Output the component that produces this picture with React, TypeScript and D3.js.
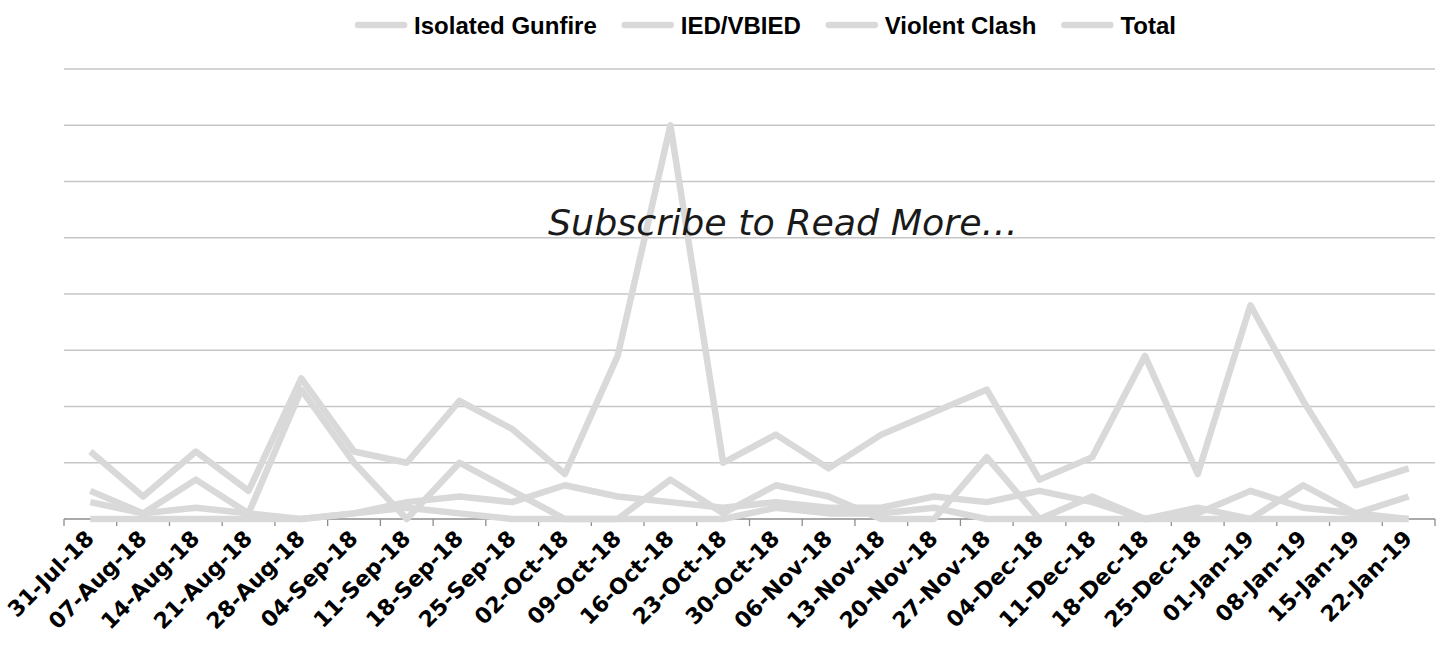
import React, { useEffect, useRef } from "react";
import * as d3 from "d3";

const dates = [
  "31-Jul-18", "07-Aug-18", "14-Aug-18", "21-Aug-18", "28-Aug-18", "04-Sep-18",
  "11-Sep-18", "18-Sep-18", "25-Sep-18", "02-Oct-18", "09-Oct-18", "16-Oct-18",
  "23-Oct-18", "30-Oct-18", "06-Nov-18", "13-Nov-18", "20-Nov-18", "27-Nov-18",
  "04-Dec-18", "11-Dec-18", "18-Dec-18", "25-Dec-18", "01-Jan-19", "08-Jan-19",
  "15-Jan-19", "22-Jan-19",
];

const isolatedGunfire = [5, 1, 7, 1, 23, 10, 0, 10, 5, 0, 0, 7, 1, 6, 4, 0, 0, 11, 0, 4, 0, 1, 5, 2, 1, 0];
const iedVbied = [0, 0, 0, 0, 0, 1, 2, 1, 0, 0, 0, 0, 0, 2, 1, 1, 2, 0, 0, 0, 0, 0, 0, 6, 1, 4];
const violentClash = [3, 1, 2, 1, 0, 1, 3, 4, 3, 6, 4, 3, 2, 3, 2, 2, 4, 3, 5, 3, 0, 2, 0, 0, 0, 0];
const total = [12, 4, 12, 5, 25, 12, 10, 21, 16, 8, 29, 70, 10, 15, 9, 15, 19, 23, 7, 11, 29, 8, 38, 21, 6, 9];

const seriesNames = ["Isolated Gunfire", "IED/VBIED", "Violent Clash", "Total"];
const seriesValues = [isolatedGunfire, iedVbied, violentClash, total];
const yTicks = [0, 10, 20, 30, 40, 50, 60, 70, 80];
const overlayText = "Subscribe to Read More\u2026";

const LINE_COLOR = "#d9d9d9";

export default function App() {
  const ref = useRef<SVGSVGElement | null>(null);

  useEffect(() => {
    const svg = d3.select(ref.current);
    svg.selectAll("*").remove();

    const left = 64, right = 1435, top = 69, bottom = 519;
    const x = d3.scaleBand<string>().domain(dates).range([left, right]);
    const y = d3.scaleLinear().domain([0, 80]).range([bottom, top]);
    const cx = (d: string) => (x(d) as number) + x.bandwidth() / 2;

    // gridlines
    svg.append("g")
      .selectAll("line")
      .data(yTicks.filter((t) => t > 0))
      .join("line")
      .attr("x1", left).attr("x2", right)
      .attr("y1", (d) => y(d)).attr("y2", (d) => y(d))
      .attr("stroke", "#c6c6c6").attr("stroke-width", 1.3);

    // x axis line and ticks
    const ax = svg.append("g");
    ax.append("line")
      .attr("x1", left).attr("x2", right)
      .attr("y1", bottom).attr("y2", bottom)
      .attr("stroke", "#8c8c8c").attr("stroke-width", 1.3);
    const boundaries = dates.map((d) => x(d) as number).concat([right]);
    ax.selectAll("line.tick")
      .data(boundaries)
      .join("line")
      .attr("class", "tick")
      .attr("x1", (d) => d).attr("x2", (d) => d)
      .attr("y1", bottom).attr("y2", bottom + 7)
      .attr("stroke", "#8c8c8c").attr("stroke-width", 1.3);

    // x labels
    svg.append("g")
      .selectAll("text")
      .data(dates)
      .join("text")
      .attr("transform", (d) => `translate(${cx(d) + 5},${bottom + 21}) rotate(-45)`)
      .attr("text-anchor", "end")
      .attr("font-family", "'DejaVu Sans', sans-serif")
      .attr("font-weight", "bold")
      .attr("font-size", 22)
      .attr("fill", "#000")
      .text((d) => d);

    // lines
    const line = d3.line<number>()
      .x((_, i) => cx(dates[i]))
      .y((v) => y(v));
    svg.append("g")
      .selectAll("path")
      .data(seriesValues)
      .join("path")
      .attr("d", (d) => line(d))
      .attr("fill", "none")
      .attr("stroke", LINE_COLOR)
      .attr("stroke-width", 6.5)
      .attr("stroke-linejoin", "round")
      .attr("stroke-linecap", "butt");

    // overlay text
    const ot = svg.append("text")
      .attr("x", 783).attr("y", 235)
      .attr("text-anchor", "middle")
      .attr("font-family", "'DejaVu Sans', sans-serif")
      .attr("font-style", "italic")
      .attr("font-size", 34)
      .attr("fill", "#1a1a1a")
      .text(overlayText);
    const otw = (ot.node() as SVGTextElement).getComputedTextLength();
    if (otw > 0) ot.attr("font-size", 34 * 470 / otw);

    // legend
    const lg = svg.append("g");
    const swatch = 46, gapSwatchText = 10, gapItems = 28, legendY = 25;
    let cursor = 0;
    seriesNames.forEach((name, i) => {
      const t = lg.append("text")
        .attr("font-family", "'Liberation Sans', Arial, sans-serif")
        .attr("font-weight", "bold")
        .attr("font-size", 24)
        .attr("dominant-baseline", "central")
        .attr("y", legendY)
        .text(name);
      const w = (t.node() as SVGTextElement).getComputedTextLength();
      const sx = cursor;
      const tx = sx + swatch + gapSwatchText;
      t.attr("x", tx);
      lg.append("line")
        .attr("x1", sx).attr("x2", sx + swatch)
        .attr("y1", legendY).attr("y2", legendY)
        .attr("stroke", LINE_COLOR).attr("stroke-width", 6.5)
        .attr("stroke-linecap", "round");
      cursor = tx + w + (i < seriesNames.length - 1 ? gapItems : 0);
    });
    lg.attr("transform", `translate(${767 - cursor / 2},0)`);
  }, []);

  return (
    <svg
      ref={ref}
      width={1444}
      height={656}
      style={{ position: "absolute", left: 0, top: 0, background: "#fff" }}
    />
  );
}
